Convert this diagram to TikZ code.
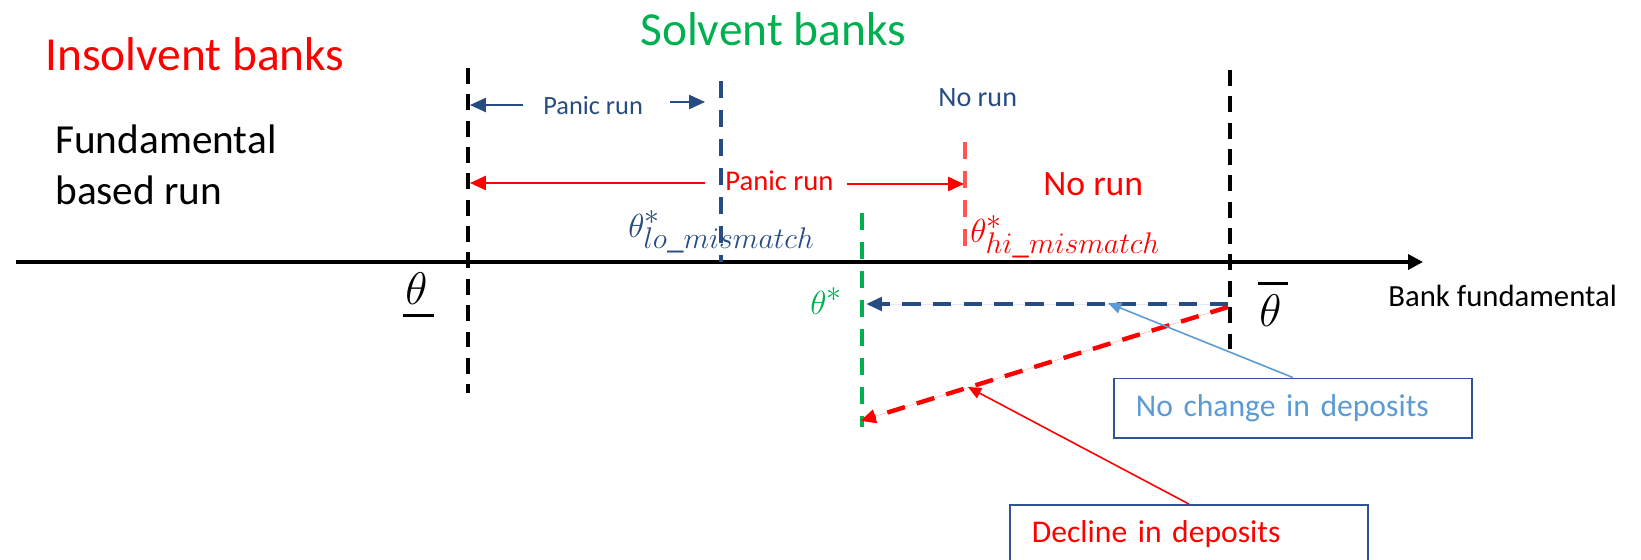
\RequirePackage{fix-cm}
\documentclass[tikz,border=0pt]{standalone}
\usepackage{fontspec}
\setmainfont{Carlito}
\usepackage{tikz}
\usetikzlibrary{arrows.meta,positioning,calc}
\definecolor{runnavy}{RGB}{38,76,130}
\definecolor{solvgreen}{RGB}{0,176,80}
\definecolor{softred}{RGB}{255,85,85}
\definecolor{noteblue}{RGB}{91,155,213}
\definecolor{boxnavy}{RGB}{47,84,150}
\DeclareMathSizes{19}{19}{17}{13}
\tikzset{
  lbl/.style={inner sep=0pt,anchor=base west},
  cutline/.style={line width=2.2pt,dash pattern=on 9pt off 6pt},
  markline/.style={line width=2.4pt,dash pattern=on 9.5pt off 7pt},
  notebox/.style={draw=boxnavy,line width=1pt,anchor=north west,inner xsep=0.44cm,
    inner ysep=0.32cm,text height=0.44cm,text width=6.28cm,align=left,
    font=\fontsize{18}{22}\selectfont}
}

\begin{document}
\begin{tikzpicture}[
  x=0.02cm,y=-0.02cm,
  axisline/.style={line width=2pt,-{Triangle[length=8.5pt,width=8.5pt]}},
  spanarrow/.style={line width=1.1pt,-{Triangle[length=9pt,width=8pt]}},
  shiftarrow/.style={line width=2.5pt,dash pattern=on 10.5pt off 7pt,-{Triangle[length=9pt,width=7.5pt]}},
  pointer/.style={line width=0.9pt,-{Triangle[length=7.5pt,width=6.5pt]}}
]
\useasboundingbox (0,0) rectangle (1641,559);
\clip (0,0) rectangle (1641,559);

% axis
\coordinate (axL) at (16,262);
\coordinate (axR) at (1423,262);
\draw[axisline] (axL) -- (axR);

% thresholds
\coordinate (lowT)  at (468,68);   \coordinate (lowB)  at (468,393);
\coordinate (highT) at (1230,70);  \coordinate (highB) at (1230,353);
\coordinate (loT)   at (721,81);   \coordinate (loB)   at (721,262);
\coordinate (hiT)   at (965,142);  \coordinate (hiB)   at (965,257);
\coordinate (stT)   at (862,213);  \coordinate (stB)   at (862,427);

\draw[cutline] (lowT) -- (lowB);
\draw[cutline] (highT) -- (highB);
\draw[markline,draw=runnavy] (loT) -- (loB);
\draw[markline,draw=softred] (hiT) -- (hiB);
\draw[markline,draw=solvgreen] (stT) -- (stB);

% headings
\node[lbl,text=red,font=\fontsize{27}{32}\selectfont] (insolv) at (45,70) {Insolvent banks};
\node[lbl,text=solvgreen,font=\fontsize{27}{32}\selectfont] (solv) at (640,45) {Solvent banks};
\node[lbl,font=\fontsize{23.5}{29}\selectfont] (fundA) at (55,153) {Fundamental};
\node[lbl,font=\fontsize{23.5}{29}\selectfont] (fundB) at (55,204) {based run};

% run regions
\node[lbl,text=runnavy,font=\fontsize{15}{18}\selectfont] (panicA) at (543,114) {Panic run};
\node[lbl,text=runnavy,font=\fontsize{16}{19}\selectfont] (norunA) at (938,106) {No run};
\node[lbl,text=red,font=\fontsize{16.3}{19}\selectfont] (panicB) at (725,190) {Panic run};
\node[lbl,text=red,font=\fontsize{20.3}{24}\selectfont] (norunB) at (1043,195) {No run};

\coordinate (pAl) at (523,105); \coordinate (pAlt) at (470,105);
\coordinate (pAr) at (670,102); \coordinate (pArt) at (705,102);
\draw[spanarrow,draw=runnavy,fill=runnavy] (pAl) -- (pAlt);
\draw[spanarrow,draw=runnavy,fill=runnavy] (pAr) -- (pArt);

\coordinate (pBl) at (705,183); \coordinate (pBlt) at (470,183);
\coordinate (pBr) at (847,184); \coordinate (pBrt) at (964,184);
\draw[spanarrow,draw=red,fill=red] (pBl) -- (pBlt);
\draw[spanarrow,draw=red,fill=red] (pBr) -- (pBrt);

% thresholds labels
\node[lbl,text=runnavy,font=\fontsize{19}{23}\selectfont] (thlo) at (628,237)
  {$\theta^{*}_{lo\_mismatch}$};
\node[lbl,text=red,font=\fontsize{19}{23}\selectfont] (thhi) at (970,242)
  {$\theta^{*}_{hi\_mismatch}$};
\node[lbl,text=solvgreen,font=\fontsize{19}{23}\selectfont] (thstar) at (810,314)
  {$\theta^{*}$};
\node[lbl,font=\fontsize{26}{30}\selectfont] (thlow) at (405,304) {$\theta$};
\node[lbl,font=\fontsize{26}{30}\selectfont] (thhigh) at (1259,326) {$\theta$};
\draw[line width=1.7pt] ($(thlow.south west)+(-2,11)$) -- ($(thlow.south east)+(6,11)$);
\draw[line width=1.7pt] ($(thhigh.north west)+(-1,-10)$) -- ($(thhigh.north east)+(6,-10)$);

\node[lbl,font=\fontsize{17.5}{21}\selectfont] (bankf) at (1388,306) {Bank fundamental};

% deposit shifts
\coordinate (shS)  at (1228,304);
\coordinate (shB)  at (866,304);
\coordinate (shS2) at (1228,307);
\coordinate (shR)  at (860,421);
\draw[shiftarrow,draw=runnavy,fill=runnavy] (shS) -- (shB);
\draw[shiftarrow,draw=red,fill=red] (shS2) -- (shR);

% notes
\node[notebox,text=noteblue,text depth=0.11cm] (nochg) at (1113,377.5) {No change in deposits};
\node[notebox,text=red,text depth=0.8cm] (decl) at (1009,504) {Decline in deposits};

\coordinate (ptB) at (1108,303);
\coordinate (ptR) at (968,387);
\draw[pointer,draw=noteblue,fill=noteblue] (nochg.north) -- (ptB);
\draw[pointer,draw=red,fill=red] (decl.north) -- (ptR);

\end{tikzpicture}
\end{document}
